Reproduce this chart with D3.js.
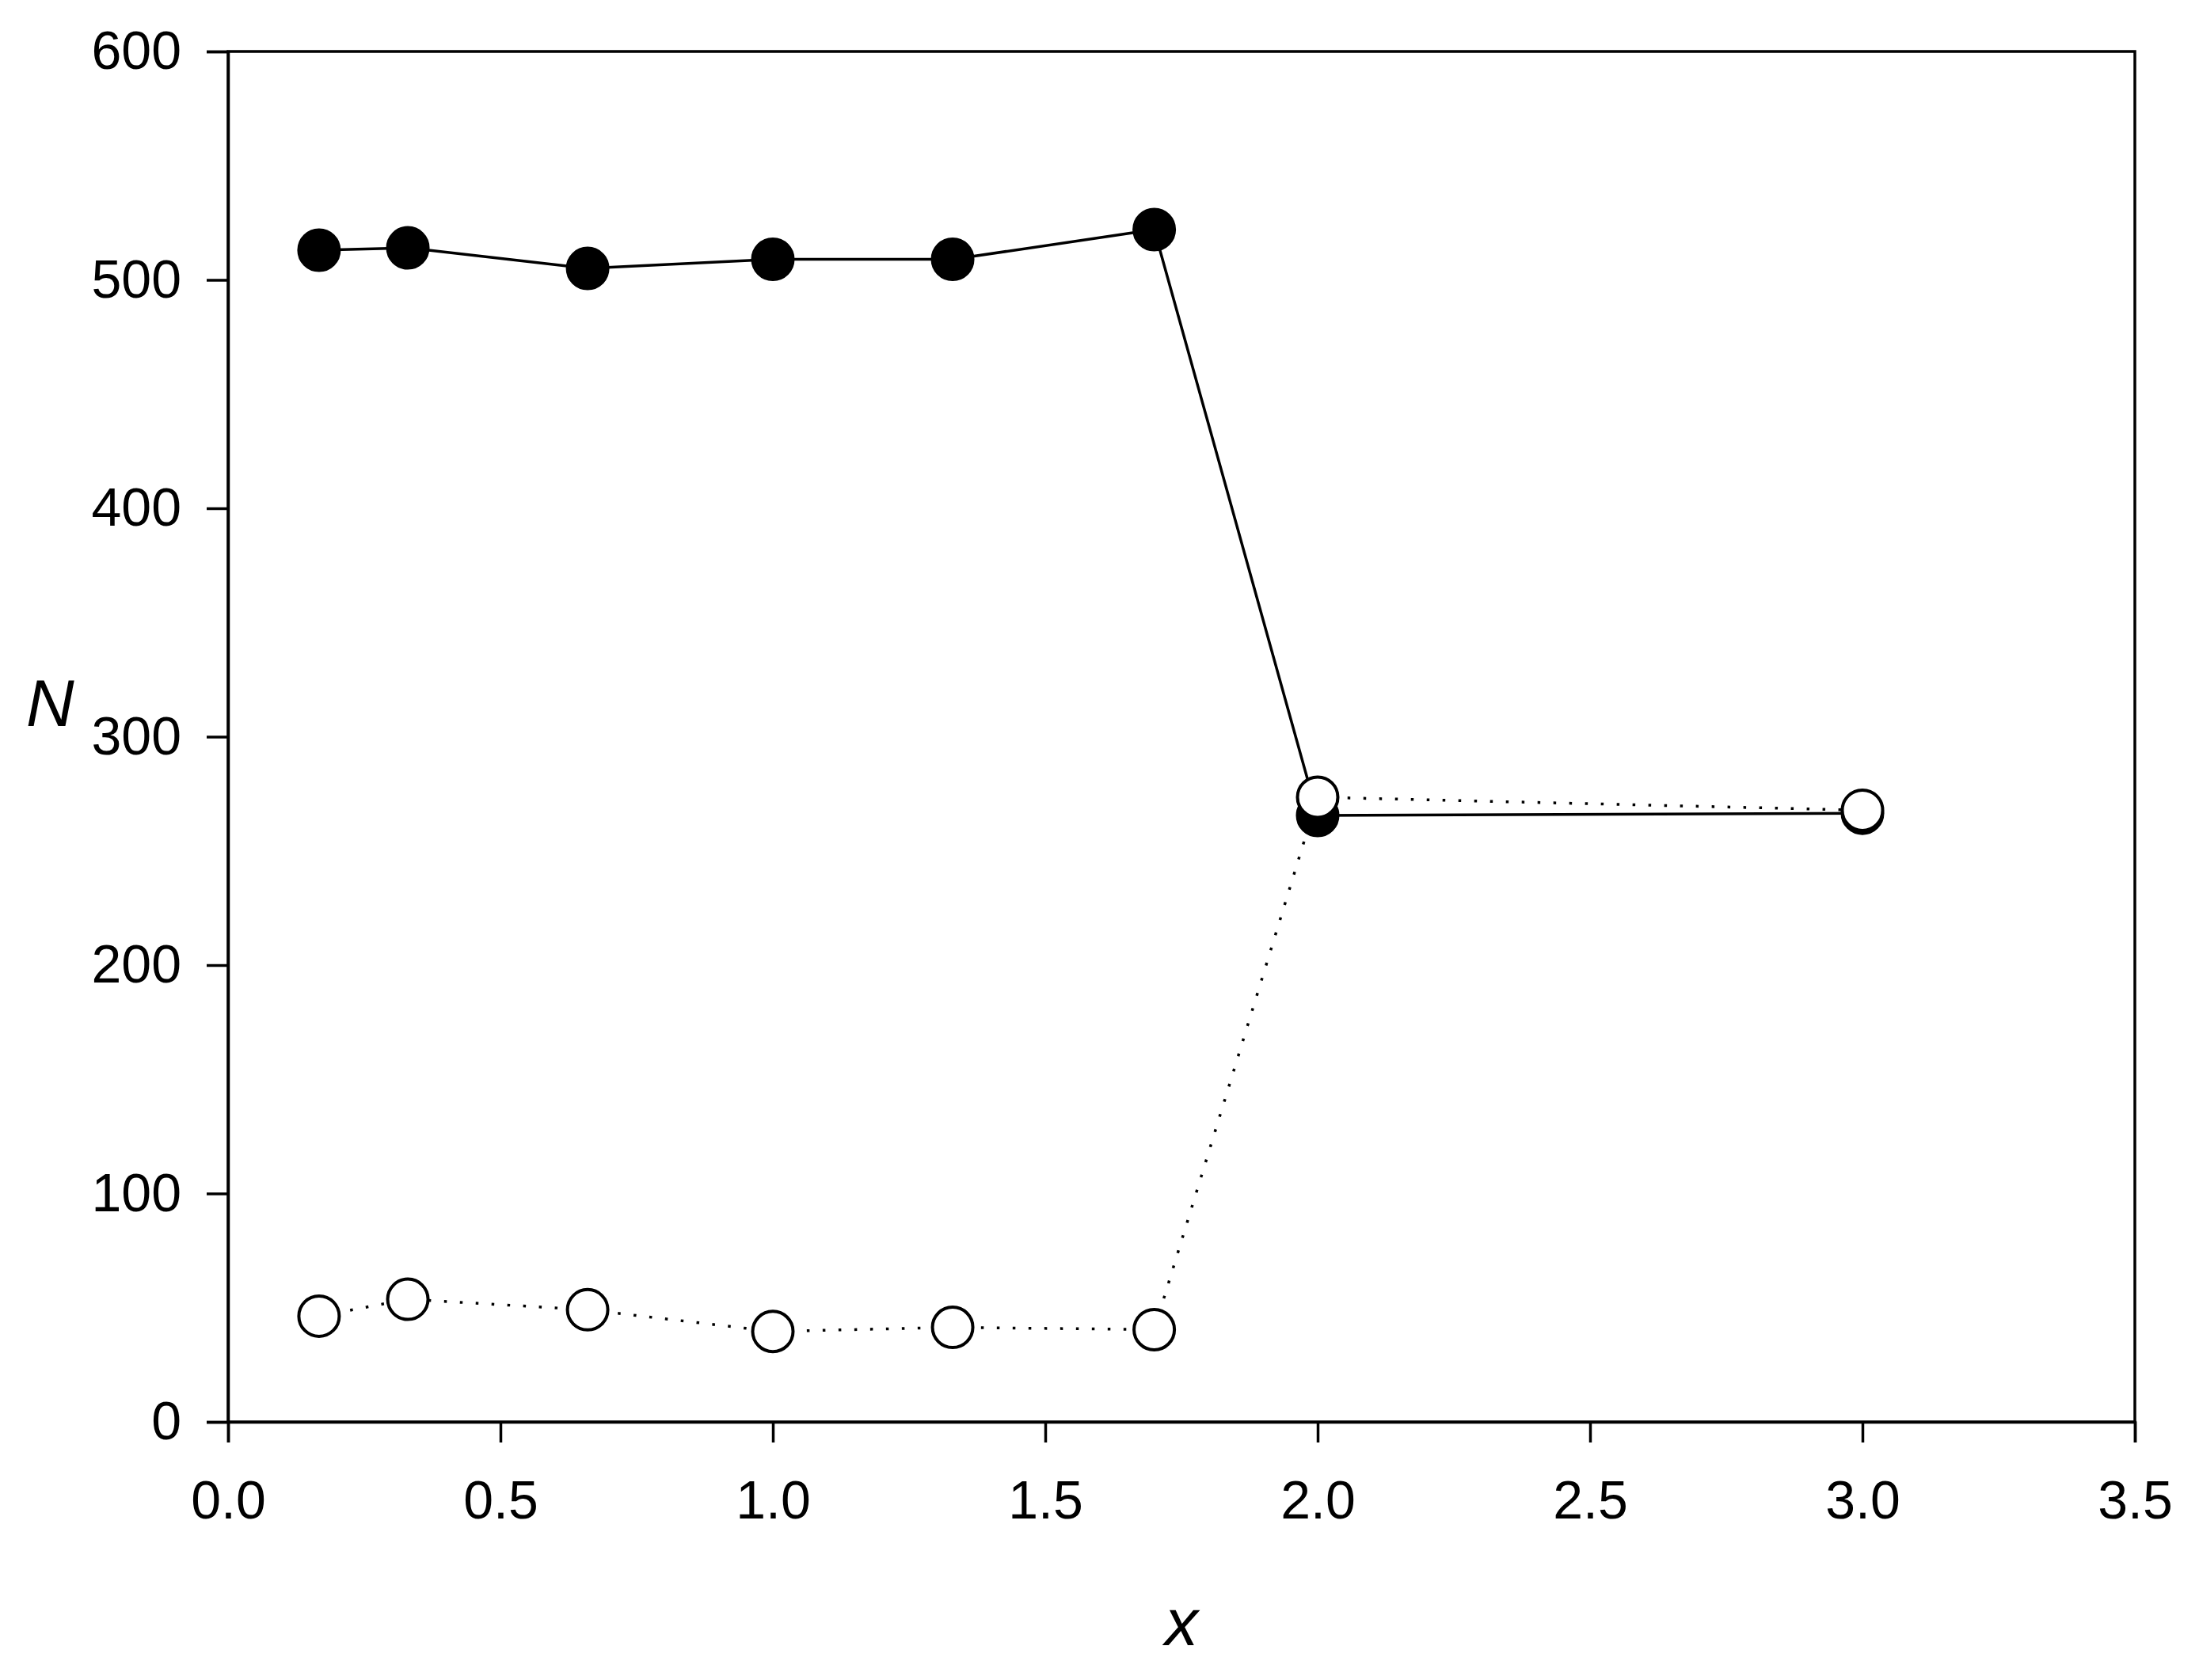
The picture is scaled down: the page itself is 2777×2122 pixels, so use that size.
<!DOCTYPE html>
<html>
<head>
<meta charset="utf-8">
<script src="https://cdn.jsdelivr.net/npm/d3@7"></script>
<style>
  body { margin: 0; background: #fff; }
  svg text { font-family: "Liberation Sans", Arial, sans-serif; fill: #000; }
</style>
</head>
<body>
<svg id="chart" width="2777" height="2122"></svg>
<script>
// data
let xValues = [0.167, 0.33, 0.66, 1.0, 1.33, 1.7, 2.0, 3.0];
let filledN = [513, 514, 505, 509, 509, 522, 265.5, 266.5];
let openN = [46.3, 53.7, 49.1, 39.6, 41.4, 40.4, 273.5, 267.8];
let xTicks = [0, 0.5, 1, 1.5, 2, 2.5, 3, 3.5];
let yTicks = [0, 100, 200, 300, 400, 500, 600];

let svg = d3.select("svg#chart"),
  margin = { top: 65, right: 81, bottom: 326, left: 288 },
  width = +svg.attr("width") - margin.left - margin.right,
  height = +svg.attr("height") - margin.top - margin.bottom;

svg.append("rect").attr("width", 2777).attr("height", 2122).attr("fill", "#fff");

let xScale = d3.scaleLinear().domain([0, 3.5]).range([0, width]),
  yScale = d3.scaleLinear().domain([0, 600]).range([height, 0]);

let g = svg.append("g")
  .attr("transform", "translate(" + margin.left + "," + margin.top + ")");

// frame (top and right)
g.append("rect")
  .attr("width", width).attr("height", height)
  .attr("fill", "none").attr("stroke", "#000").attr("stroke-width", 3.5);

// axes
let xAxis = g.append("g")
  .attr("transform", "translate(0," + height + ")")
  .call(d3.axisBottom(xScale).tickValues(xTicks).tickSize(26).tickPadding(48)
    .tickFormat(d3.format(".1f")));
let yAxis = g.append("g")
  .call(d3.axisLeft(yScale).tickValues(yTicks).tickSize(27).tickPadding(32)
    .tickFormat(d3.format("d")));

[xAxis, yAxis].forEach(function (ax) {
  ax.select(".domain").attr("stroke-width", 3.5);
  ax.selectAll(".tick line").attr("stroke-width", 3.5);
  ax.selectAll(".tick text").style("font-size", "68px")
    .attr("font-family", null);
  ax.attr("font-family", null);
});

// data
let filled = xValues.map((x, i) => ({ x: x, n: filledN[i] }));
let open = xValues.map((x, i) => ({ x: x, n: openN[i] }));

let line = d3.line()
  .x(d => xScale(d.x))
  .y(d => yScale(d.n));

// filled series, solid line
g.append("path")
  .datum(filled)
  .attr("d", line)
  .attr("fill", "none")
  .attr("stroke", "#000")
  .attr("stroke-width", 3.5);

g.selectAll(".dot-filled")
  .data(filled)
  .enter()
  .append("circle")
  .attr("class", "dot-filled")
  .attr("cx", d => xScale(d.x))
  .attr("cy", d => yScale(d.n))
  .attr("r", 25.5)
  .attr("fill", "#000")
  .attr("stroke", "#000")
  .attr("stroke-width", 4);

// open series, dotted line
g.append("path")
  .datum(open)
  .attr("d", line)
  .attr("fill", "none")
  .attr("stroke", "#000")
  .attr("stroke-width", 3.5)
  .attr("stroke-dasharray", "3.5,16.5");

g.selectAll(".dot-open")
  .data(open)
  .enter()
  .append("circle")
  .attr("class", "dot-open")
  .attr("cx", d => xScale(d.x))
  .attr("cy", d => yScale(d.n))
  .attr("r", 25.5)
  .attr("fill", "#fff")
  .attr("stroke", "#000")
  .attr("stroke-width", 4);

// axis titles
svg.append("text")
  .attr("x", margin.left + width / 2)
  .attr("y", 2078)
  .attr("text-anchor", "middle")
  .style("font-size", "84px")
  .style("font-style", "italic")
  .text("x");

svg.append("text")
  .attr("x", 33)
  .attr("y", 917)
  .style("font-size", "84px")
  .style("font-style", "italic")
  .text("N");
</script>
</body>
</html>
